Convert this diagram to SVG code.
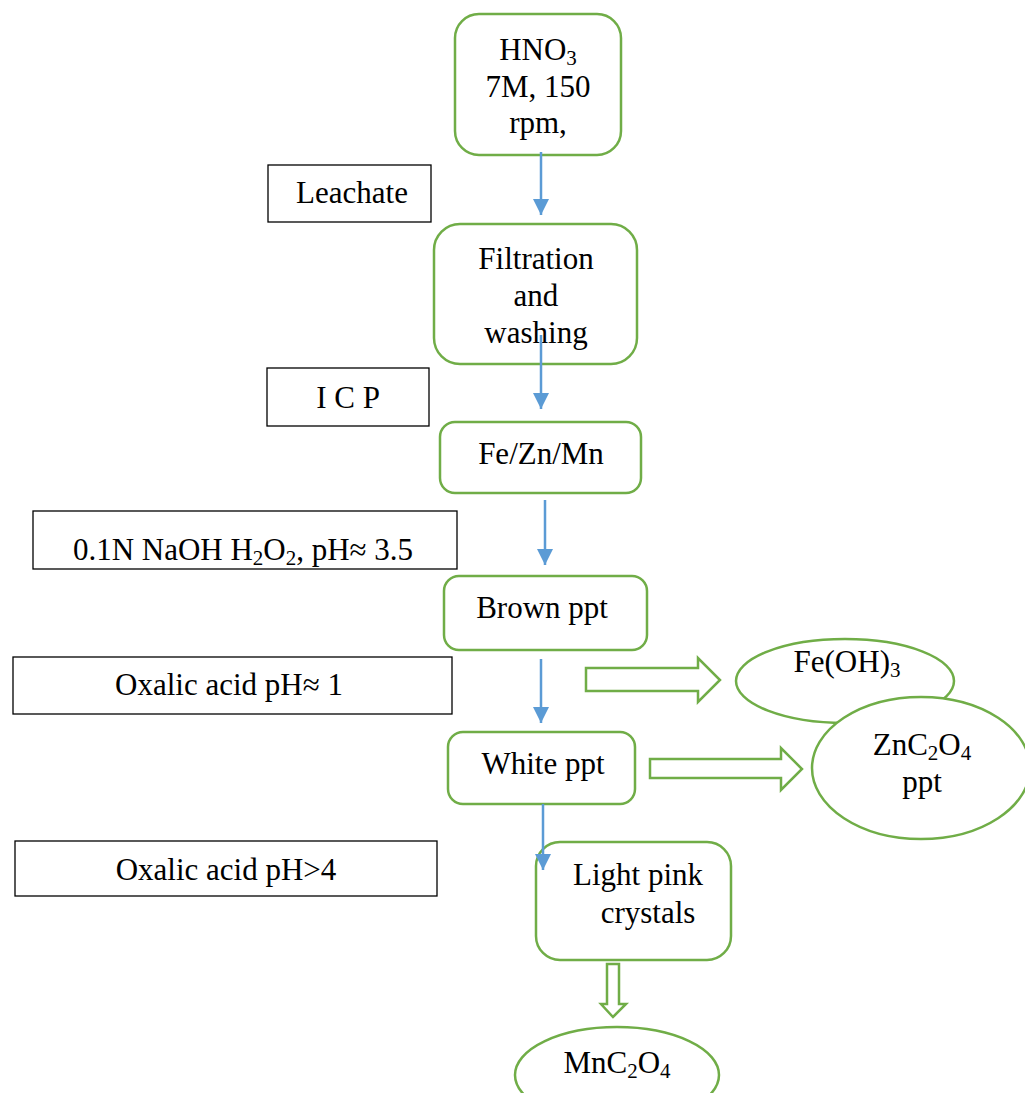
<svg xmlns="http://www.w3.org/2000/svg" width="1025" height="1093" viewBox="0 0 1025 1093">
<defs>
<style>
text{font-family:"Liberation Serif","Times New Roman",serif;font-size:31px;fill:#000;text-anchor:middle}
.node{fill:#fff;stroke:#70AD47;stroke-width:2.5}
.lbl{fill:#fff;stroke:#000;stroke-width:1.3}
.conn{stroke:#5B9BD5;stroke-width:2.5;fill:none}
.hollow{fill:#fff;stroke:#70AD47;stroke-width:2.5;stroke-linejoin:miter}
.sub{font-size:21px}
</style>
<marker id="ah" viewBox="0 0 16 16" refX="16" refY="8" markerWidth="16" markerHeight="16" markerUnits="userSpaceOnUse" orient="auto">
<path d="M0,0 L16,8 L0,16 z" fill="#5B9BD5"/>
</marker>
</defs>
<rect width="1025" height="1093" fill="#fff"/>

<g id="leachate"><rect class="lbl" x="268" y="165" width="163" height="57"/><text x="352" y="203">Leachate</text></g>
<g id="icp"><rect class="lbl" x="267" y="368" width="162" height="58"/><text x="348" y="408">I C P</text></g>
<g id="naoh"><rect class="lbl" x="33" y="511" width="424" height="58"/><text x="243" y="560">0.1N NaOH H<tspan class="sub" dy="5">2</tspan><tspan dy="-5">O</tspan><tspan class="sub" dy="5">2</tspan><tspan dy="-5">, pH≈ 3.5</tspan></text></g>
<g id="oxalic1"><rect class="lbl" x="13" y="657" width="439" height="57"/><text x="229" y="695">Oxalic acid pH≈ 1</text></g>
<g id="oxalic4"><rect class="lbl" x="15" y="841" width="422" height="55"/><text x="226" y="880">Oxalic acid pH&gt;4</text></g>

<g id="hno3"><rect class="node" x="455" y="14" width="166" height="141" rx="24"/>
<text x="538" y="60">HNO<tspan class="sub" dy="5">3</tspan></text><text x="538" y="97">7M, 150</text><text x="538" y="133">rpm,</text></g>
<g id="filtration"><rect class="node" x="434" y="224" width="203" height="140" rx="26"/>
<text x="536" y="269">Filtration</text><text x="536" y="306">and</text><text x="536" y="343">washing</text></g>
<g id="fezn"><rect class="node" x="440" y="422" width="201" height="71" rx="15"/><text x="541" y="464">Fe/Zn/Mn</text></g>
<g id="brown"><rect class="node" x="444" y="576" width="203" height="74" rx="15"/><text x="542" y="618">Brown ppt</text></g>
<g id="white"><rect class="node" x="448" y="732" width="187" height="72" rx="15"/><text x="543" y="774">White ppt</text></g>
<g id="pink"><rect class="node" x="536" y="842" width="195" height="118" rx="24"/>
<text x="638" y="885">Light pink</text><text x="648" y="923">crystals</text></g>
<g id="feoh"><ellipse class="node" cx="845" cy="681" rx="109" ry="42"/><text x="847" y="672">Fe(OH)<tspan class="sub" dy="5">3</tspan></text></g>
<g id="znc2o4"><ellipse class="node" cx="921" cy="768" rx="109" ry="71"/>
<text x="922" y="755">ZnC<tspan class="sub" dy="5">2</tspan><tspan dy="-5">O</tspan><tspan class="sub" dy="5">4</tspan></text><text x="922" y="792">ppt</text></g>
<g id="mnc2o4"><ellipse class="node" cx="617" cy="1075" rx="102" ry="48"/>
<text x="617" y="1073">MnC<tspan class="sub" dy="5">2</tspan><tspan dy="-5">O</tspan><tspan class="sub" dy="5">4</tspan></text></g>

<g id="connectors">
<line class="conn" x1="541" y1="152" x2="541" y2="215" marker-end="url(#ah)"/>
<line class="conn" x1="541" y1="335" x2="541" y2="409" marker-end="url(#ah)"/>
<line class="conn" x1="545" y1="500" x2="545" y2="565" marker-end="url(#ah)"/>
<line class="conn" x1="541" y1="659" x2="541" y2="723" marker-end="url(#ah)"/>
<line class="conn" x1="543" y1="804" x2="543" y2="870" marker-end="url(#ah)"/>
<polygon class="hollow" points="586,668 698,668 698,658 720,680 698,702 698,691 586,691"/>
<polygon class="hollow" points="650,759 781,759 781,748 802,769 781,790 781,778 650,778"/>
<polygon class="hollow" points="607,964 619,964 619,1004 626,1004 613,1017 601,1004 607,1004"/>
</g>
</svg>
